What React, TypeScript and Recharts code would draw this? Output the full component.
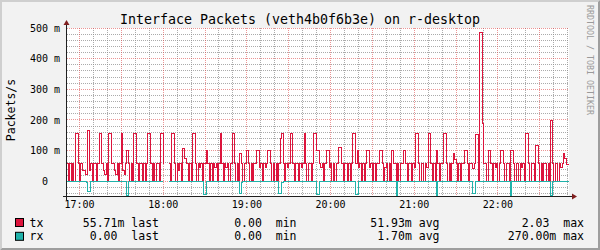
import { LineChart, Line, XAxis, YAxis, ReferenceLine, ReferenceArea } from 'recharts';

const MONO = "'DejaVu Sans Mono', monospace";

// minutes of the day, first sample at 16:51, one sample per minute
const START_MIN = 16 * 60 + 51;
const END_MIN = START_MIN + 360;

// tx packets/s in milli units, one row per half hour
const TX: (number | null)[] = [
  57, 0, 57, 0, 57, 0, 155, 155, 57, 0, 57, 36, 36, 23, 23, 166, 36, 57, 0, 57, 57, 0, 57, 155, 155, 57, 36, 23, 57, 0,
  155, 155, 57, 57, 36, 23, 57, 0, 57, 155, 36, 23, 57, 101, 57, 0, 57, 0, 155, 155, 57, 0, 57, 57, 0, 57, 0, 57, 155, 155,
  57, 0, 57, 0, 57, 57, 0, 155, 155, 57, null, null, null, 57, 0, 155, 155, 57, 0, 57, 36, 57, 0, 108, 74, 74, 57, 0, 57, 0,
  155, 155, 57, 0, 57, 46, 57, 0, 57, 57, 101, 57, 0, 57, 0, 57, 46, 57, 0, 57, 155, 57, 0, 57, 46, 57, 0, 57, 57, 155,
  57, 0, 57, 0, 90, 57, 0, 57, 57, 101, 57, 0, 57, 0, 57, 57, 101, 101, 46, 57, 0, 57, 46, 57, 101, 101, 57, 0, 57, 0,
  57, 0, 57, 140, 155, 57, 0, 57, 46, 57, 155, 155, 57, 0, 57, 57, 0, 57, 46, 57, 155, 57, 0, 57, 57, 0, 57, 155, 155, 101,
  101, 57, 46, 57, 0, 57, 101, 101, 46, 57, 0, 57, 0, 57, 57, 110, 110, 57, 0, 57, 57, 0, 57, 0, 57, 155, 155, 57, 101, 46,
  57, 0, 57, 0, 57, 101, 101, 46, 57, 0, 57, 0, 57, 57, 101, 101, 57, 0, 46, 57, 0, 57, 0, 101, 57, 57, 0, 57, 0, 57,
  57, 101, 101, 57, 0, 57, 57, 0, 57, 46, 155, 155, 57, 0, 57, 57, 0, 57, 46, 155, 155, 57, 0, 57, 0, 101, 57, 0, 57, 57,
  155, 155, 57, 0, 57, 0, 57, 91, 70, 57, 0, 57, 0, 57, 57, 102, 102, 57, 0, 57, 57, 43, 57, 154, 154, 0, 486, 486, 189, 57,
  57, 0, 102, 102, 57, 0, 57, 46, 57, 0, 57, 102, 102, 57, 0, 57, 57, 0, 102, 102, 57, 0, 57, 57, 0, 57, 46, 57, 0, 156,
  156, 57, 0, 57, 57, 0, 118, 118, 57, 0, 57, 0, 57, 57, 0, 57, 0, 197, 57, 0, 57, 57, 0, 57, 46, 57, 91, 74, 56, 56,
];

// rx drawn below the zero line, milli units
const RX: (number | null)[] = [
  0, 0, 0, 0, 0, 0, 0, 0, 0, 0, 0, 0, 0, 0, -5, -33, -33, 0, 0, 0, 0, 0, 0, 0, 0, 0, 0, 0, 0, 0,
  0, 0, 0, 0, 0, 0, 0, 0, 0, 0, 0, 0, 0, -45, 0, 0, 0, 0, 0, 0, 0, 0, 0, 0, 0, 0, 0, 0, 0, 0,
  0, 0, 0, 0, 0, 0, 0, 0, 0, 0, null, null, null, 0, 0, 0, 0, 0, 0, 0, 0, 0, 0, 0, 0, 0, 0, 0, 0, 0,
  0, 0, 0, 0, 0, 0, 0, 0, -44, -44, 0, 0, 0, 0, 0, 0, 0, 0, 0, 0, 0, 0, 0, 0, 0, 0, 0, 0, 0, 0,
  0, 0, 0, 0, -40, -5, 0, 0, 0, 0, 0, 0, 0, 0, 0, 0, 0, 0, 0, 0, 0, 0, 0, 0, 0, 0, 0, 0, 0, 0,
  0, 0, -40, -40, -5, 0, 0, 0, 0, 0, 0, 0, 0, 0, 0, 0, 0, 0, 0, 0, 0, 0, 0, 0, 0, 0, 0, 0, 0, -44,
  -44, 0, 0, 0, 0, 0, 0, 0, 0, 0, 0, 0, 0, 0, 0, 0, 0, 0, 0, 0, 0, 0, 0, 0, 0, 0, 0, -44, -44, 0,
  0, 0, 0, 0, 0, 0, 0, 0, 0, 0, 0, 0, 0, 0, 0, 0, 0, 0, 0, 0, 0, 0, 0, 0, 0, 0, -45, 0, 0, 0,
  0, 0, 0, 0, 0, 0, 0, 0, 0, 0, 0, 0, 0, 0, 0, 0, 0, 0, 0, 0, 0, 0, 0, 0, 0, -45, 0, 0, 0, 0,
  0, 0, 0, 0, 0, 0, 0, 0, 0, 0, 0, 0, 0, 0, 0, 0, 0, 0, 0, 0, 0, -41, -41, 0, 0, 0, 0, 0, 0, 0,
  0, 0, 0, 0, 0, 0, 0, 0, 0, 0, 0, 0, 0, 0, 0, 0, 0, 0, -45, 0, 0, 0, 0, 0, 0, 0, 0, 0, 0, 0,
  0, 0, 0, 0, 0, 0, 0, 0, 0, 0, 0, 0, 0, 0, 0, 0, 0, -45, 0, 0, 0, 0, 0, 0, 0, 0, 0, 0, 0, 0,
];

const Y_TICKS = [0, 100, 200, 300, 400, 500];
const Y_MINOR = [-40, -20, 20, 40, 60, 80, 120, 140, 160, 180, 220, 240, 260, 280, 320, 340, 360, 380, 420, 440, 460, 480];
const X_TICKS = [1020, 1080, 1140, 1200, 1260, 1320];
const X_MAJOR = [1020, 1050, 1080, 1110, 1140, 1170, 1200, 1230, 1260, 1290, 1320, 1350];
const X_MINOR = [
  1030, 1040, 1060, 1070, 1090, 1100, 1120, 1130, 1150, 1160, 1180, 1190,
  1210, 1220, 1240, 1250, 1270, 1280, 1300, 1310, 1330, 1340, 1360, 1370,
];

const LEGEND = [
  { name: 'tx', color: '#dc143c', last: '55.71m last', min: '0.00  min', avg: '51.93m avg', max: '2.03  max' },
  { name: 'rx', color: '#20b2aa', last: '0.00  last', min: '0.00  min', avg: '1.70m avg', max: '270.00m max' },
];

const GRID = 'rgba(143,143,143,0.75)';
const MGRID = 'rgba(222,79,79,0.6)';

const rows = TX.map((v, i) => ({ t: START_MIN + i, tx: v, rx: RX[i] }));
rows.push({ t: END_MIN, tx: TX[TX.length - 1], rx: RX[RX.length - 1] });

const fmtTime = (m: number) =>
  `${String(Math.floor(m / 60)).padStart(2, '0')}:${String(m % 60).padStart(2, '0')}`;

const fmtY = (v: number) => (v === 0 ? '0\u00a0\u00a0' : `${v} m`);

// keep the monospace column spacing of the legend
const keepSpaces = (s: string) => s.replace(/ /g, '\u00a0');

export default function App() {
  return (
    <div style={{ position: 'absolute', left: 0, top: 0, width: 600, height: 250, background: '#f2f2f2' }}>
      <LineChart
        width={600}
        height={250}
        data={rows}
        margin={{ top: 28, right: 31, bottom: 0, left: 0 }}
        style={{ position: 'absolute', left: 0, top: 0 }}
      >
        <XAxis
          dataKey="t"
          type="number"
          domain={[START_MIN, END_MIN]}
          ticks={X_TICKS}
          tickFormatter={fmtTime}
          height={53.4}
          axisLine={false}
          tickLine={false}
          tickSize={0}
          tickMargin={4}
          tick={{ fontSize: 10, fill: '#000', fontFamily: MONO }}
        />
        <YAxis
          type="number"
          domain={[-50, 500]}
          ticks={Y_TICKS}
          interval={0}
          tickFormatter={fmtY}
          width={67}
          axisLine={false}
          tickLine={false}
          tickSize={0}
          tickMargin={7}
          tick={{ fontSize: 10, fill: '#000', fontFamily: MONO }}
        />
        <ReferenceArea x1={START_MIN} x2={END_MIN} y1={-50} y2={500} fill="#ffffff" fillOpacity={1} stroke="none" />
        {Y_MINOR.map((v) => (
          <ReferenceLine key={`ym${v}`} y={v} stroke={GRID} strokeDasharray="1 1" shapeRendering="crispEdges" />
        ))}
        {X_MINOR.map((v) => (
          <ReferenceLine key={`xm${v}`} x={v} stroke={GRID} strokeDasharray="1 1" shapeRendering="crispEdges" />
        ))}
        {Y_TICKS.map((v) => (
          <ReferenceLine key={`yM${v}`} y={v} stroke={MGRID} strokeDasharray="1 1" shapeRendering="crispEdges" />
        ))}
        {X_MAJOR.map((v) => (
          <ReferenceLine key={`xM${v}`} x={v} stroke={MGRID} strokeDasharray="1 1" shapeRendering="crispEdges" />
        ))}
        <Line
          dataKey="tx"
          type="stepAfter"
          stroke="#dc143c"
          strokeWidth={1}
          dot={false}
          activeDot={false}
          connectNulls={false}
          isAnimationActive={false}
          shapeRendering="crispEdges"
        />
        <Line
          dataKey="rx"
          type="stepAfter"
          stroke="#20b2aa"
          strokeWidth={1}
          dot={false}
          activeDot={false}
          connectNulls={false}
          isAnimationActive={false}
          shapeRendering="crispEdges"
        />
      </LineChart>
      <svg
        width={600}
        height={250}
        style={{ position: 'absolute', left: 0, top: 0, pointerEvents: 'none' }}
        fontFamily={MONO}
      >
        {/* frame shading */}
        <polygon points="0,0 600,0 598,2 2,2 2,248 0,250" fill="#cfcfcf" />
        <polygon points="600,0 600,250 0,250 2,248 598,248 598,2" fill="#9e9e9e" />
        {/* axes */}
        <line x1={63} y1={196.5} x2={573} y2={196.5} stroke="#1f1f1f" strokeWidth={1} />
        <line x1={66.5} y1={200.5} x2={66.5} y2={24} stroke="#1f1f1f" strokeWidth={1} />
        <polygon points="572,193.5 572,199.5 577,196.5" fill="#801f1f" />
        <polygon points="63.5,25 69.5,25 66.5,20" fill="#801f1f" />
        <text x={300} y={24} textAnchor="middle" fontSize={13.3} fill="#000">
          Interface Packets (veth4b0f6b3e) on r-desktop
        </text>
        <text transform="translate(15,110) rotate(-90)" textAnchor="middle" fontSize={11.5} fill="#000">
          Packets/s
        </text>
        <text transform="translate(587,60) rotate(90)" textAnchor="middle" fontSize={8.3} fill="#9a9a9a">
          RRDTOOL / TOBI OETIKER
        </text>
        {LEGEND.map((l, i) => {
          const y = 226.5 + i * 13.8;
          return (
            <g key={l.name} fontSize={11.5} fill="#000">
              <rect x={15.5} y={y - 8} width={8} height={8} fill={l.color} stroke="#000" strokeWidth={1} />
              <text x={29.5} y={y}>{l.name}</text>
              <text x={159} y={y} textAnchor="end">{keepSpaces(l.last)}</text>
              <text x={296.5} y={y} textAnchor="end">{keepSpaces(l.min)}</text>
              <text x={439.5} y={y} textAnchor="end">{keepSpaces(l.avg)}</text>
              <text x={584} y={y} textAnchor="end">{keepSpaces(l.max)}</text>
            </g>
          );
        })}
      </svg>
    </div>
  );
}
